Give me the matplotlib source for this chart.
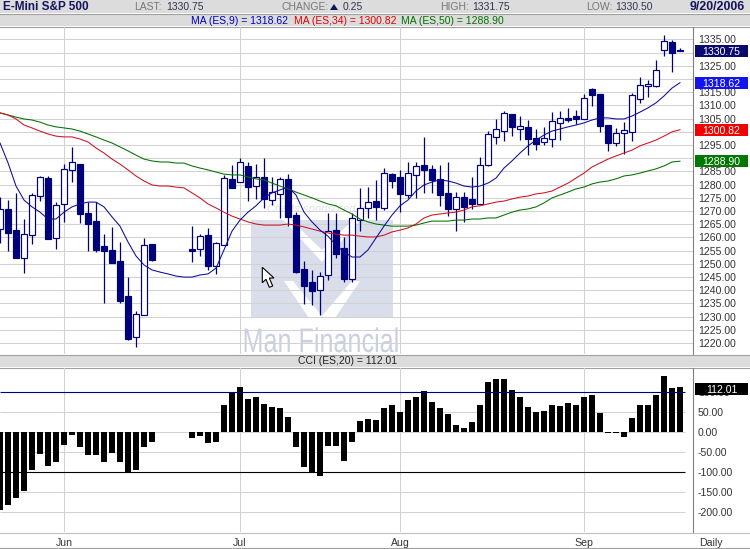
import numpy as np
import matplotlib
matplotlib.use('Agg')
import matplotlib.pyplot as plt
from matplotlib.patches import Rectangle, Polygon
from matplotlib.patheffects import AbstractPathEffect
from matplotlib.transforms import Affine2D

plt.rcParams['font.family'] = ['Liberation Sans', 'DejaVu Sans']

nan = float('nan')

# daily bars, gap in the feed at 20-23
opens = [1263.2, 1270.8, 1262.8, 1252.3, 1260.9, 1275.7, 1282.5, 1259.8, 1272.7, 1285.6,
         1287.8, 1269.3, 1266.2, 1256.8, 1255.3, 1251.1, 1237.8, 1222.3, 1230.6, 1257.5,
         nan, nan, nan, nan, 1255.6, 1255.6, 1260.9, 1249.2, 1257.1, 1282.2,
         1281.0, 1287.1, 1279.5, 1282.9, 1274.2, 1276.5, 1282.2, 1268.5, 1248.1, 1243.1,
         1240.1, 1245.8, 1262.8, 1256.0, 1244.3, 1266.6, 1271.2, 1273.8, 1271.2, 1284.0,
         1282.9, 1276.1, 1283.7, 1287.5, 1286.0, 1282.2, 1276.9, 1270.8, 1275.3, 1274.6,
         1272.7, 1287.5, 1298.1, 1300.3, 1306.8, 1301.1, 1301.9, 1297.7, 1296.2, 1297.3,
         1303.4, 1305.3, 1306.0, 1304.9, 1316.3, 1314.4, 1302.6, 1295.8, 1299.6, 1300.0,
         1312.5, 1317.4, 1317.4, 1331.0, 1334.0, 1331.0]
highs = [1275.3, 1274.2, 1276.9, 1267.0, 1276.9, 1283.3, 1283.3, 1273.4, 1287.8, 1294.3,
         1287.8, 1273.4, 1273.4, 1261.3, 1264.0, 1258.3, 1245.0, 1232.1, 1259.8, 1257.5,
         nan, nan, nan, nan, 1264.3, 1261.3, 1263.6, 1258.3, 1283.7, 1287.5,
         1290.1, 1288.6, 1287.8, 1290.1, 1282.9, 1282.9, 1284.0, 1269.6, 1251.1, 1247.7,
         1246.9, 1269.3, 1269.3, 1260.2, 1269.3, 1278.8, 1279.1, 1281.8, 1286.3, 1284.4,
         1285.6, 1288.6, 1288.6, 1298.1, 1287.5, 1287.5, 1288.6, 1277.2, 1277.2, 1282.9,
         1290.5, 1300.3, 1304.9, 1307.9, 1306.8, 1306.0, 1304.5, 1301.1, 1301.9, 1307.5,
         1307.9, 1309.1, 1308.3, 1314.4, 1316.6, 1314.4, 1302.6, 1301.5, 1303.7, 1314.7,
         1320.8, 1319.7, 1327.2, 1336.7, 1334.8, 1331.75]
lows = [1257.9, 1254.9, 1252.3, 1246.6, 1257.5, 1273.8, 1259.4, 1255.6, 1265.9, 1281.0,
        1265.5, 1254.9, 1254.5, 1235.2, 1250.3, 1235.2, 1221.2, 1218.5, 1230.6, 1251.1,
        nan, nan, nan, nan, 1250.7, 1253.0, 1247.7, 1246.2, 1257.1, 1278.8,
        1281.0, 1273.8, 1274.6, 1271.2, 1272.3, 1267.4, 1264.3, 1246.6, 1234.8, 1234.4,
        1230.6, 1243.9, 1252.3, 1243.1, 1243.1, 1262.4, 1267.4, 1266.6, 1270.4, 1278.8,
        1269.6, 1275.0, 1275.0, 1276.9, 1276.9, 1272.0, 1268.1, 1262.4, 1265.9, 1270.8,
        1272.7, 1287.1, 1295.4, 1296.6, 1298.4, 1296.9, 1291.2, 1293.1, 1295.0, 1294.3,
        1296.9, 1303.7, 1303.0, 1304.9, 1309.8, 1300.0, 1292.8, 1294.7, 1291.6, 1296.6,
        1311.0, 1313.2, 1317.0, 1328.7, 1322.7, 1330.5]
closes = [1270.8, 1261.7, 1252.3, 1261.3, 1276.1, 1282.9, 1259.4, 1272.3, 1286.0, 1288.6,
          1268.9, 1265.1, 1255.3, 1254.9, 1250.3, 1235.9, 1221.6, 1231.0, 1257.1, 1251.5,
          nan, nan, nan, nan, 1254.9, 1260.5, 1249.2, 1257.9, 1282.5, 1278.8,
          1288.6, 1279.1, 1282.9, 1274.6, 1277.2, 1282.2, 1267.8, 1246.9, 1241.6, 1239.7,
          1245.4, 1262.4, 1253.8, 1244.3, 1267.4, 1271.2, 1273.4, 1271.6, 1284.4, 1281.4,
          1276.5, 1284.4, 1287.1, 1285.6, 1281.8, 1276.1, 1270.8, 1275.3, 1271.6, 1272.7,
          1287.5, 1299.2, 1301.1, 1307.2, 1301.9, 1302.2, 1297.3, 1295.4, 1297.7, 1304.1,
          1305.3, 1304.5, 1304.9, 1312.8, 1314.0, 1302.2, 1295.8, 1299.6, 1300.7, 1314.0,
          1317.8, 1318.1, 1323.5, 1334.4, 1329.9, 1330.75]

ma9 = [1295.8, 1288.3, 1279.5, 1274.2, 1271.6, 1269.6, 1267.0, 1267.0, 1269.6, 1271.6,
       1272.7, 1273.4, 1273.4, 1271.6, 1267.8, 1264.3, 1258.3, 1253.0, 1249.6, 1247.7,
       1246.9, 1246.2, 1245.4, 1245.0, 1245.0, 1245.8, 1246.2, 1248.4, 1255.3, 1262.4,
       1266.6, 1269.6, 1272.0, 1275.0, 1276.9, 1278.0, 1279.1, 1276.1, 1269.6, 1265.9,
       1262.8, 1260.5, 1257.1, 1254.5, 1252.6, 1252.6, 1255.3, 1259.8, 1264.3, 1268.5,
       1272.0, 1274.2, 1277.6, 1279.9, 1281.0, 1281.8, 1281.4, 1280.6, 1279.5, 1279.1,
       1279.5, 1280.6, 1282.5, 1286.3, 1289.0, 1292.0, 1294.7, 1296.9, 1298.8, 1300.3,
       1301.1, 1301.9, 1302.6, 1303.4, 1304.5, 1305.3, 1305.3, 1304.9, 1304.9, 1306.0,
       1307.5, 1309.1, 1311.0, 1313.6, 1316.6, 1318.62]
ma34 = [1307.2, 1306.4, 1304.9, 1302.6, 1301.5, 1300.3, 1299.2, 1298.4, 1298.1, 1298.1,
        1297.3, 1296.2, 1293.9, 1292.0, 1289.7, 1287.8, 1285.6, 1283.3, 1281.4, 1279.9,
        1279.5, 1279.5, 1279.1, 1278.8, 1276.9, 1275.0, 1272.7, 1271.2, 1269.6, 1268.1,
        1267.0, 1265.9, 1265.1, 1264.7, 1264.7, 1264.7, 1265.1, 1264.7, 1264.0, 1263.2,
        1262.4, 1261.7, 1261.3, 1260.9, 1260.9, 1260.5, 1260.2, 1260.2, 1260.9, 1262.1,
        1262.8, 1263.6, 1265.1, 1267.4, 1268.5, 1268.9, 1269.3, 1269.6, 1270.4, 1271.6,
        1272.0, 1272.7, 1273.4, 1273.8, 1274.6, 1275.3, 1275.7, 1276.5, 1276.9, 1277.6,
        1279.1, 1280.6, 1282.5, 1284.4, 1286.7, 1288.2, 1289.7, 1290.9, 1292.0, 1293.1,
        1294.7, 1295.8, 1296.9, 1298.4, 1300.0, 1300.82]
ma50 = [1307.2, 1306.4, 1305.6, 1304.9, 1304.5, 1303.7, 1302.6, 1301.9, 1301.5, 1301.1,
        1300.3, 1299.2, 1298.1, 1296.9, 1295.8, 1294.3, 1292.8, 1291.2, 1289.7, 1289.0,
        1288.6, 1288.6, 1288.2, 1288.2, 1287.1, 1286.3, 1285.6, 1284.8, 1284.0, 1283.7,
        1283.7, 1282.9, 1282.2, 1281.8, 1280.6, 1279.5, 1278.4, 1277.2, 1276.1, 1275.0,
        1273.8, 1272.7, 1272.0, 1270.4, 1268.9, 1267.0, 1265.9, 1265.1, 1264.7, 1264.3,
        1264.3, 1264.3, 1264.7, 1265.5, 1266.2, 1266.2, 1266.2, 1266.6, 1266.6, 1267.0,
        1267.0, 1267.4, 1267.4, 1268.5, 1269.6, 1270.4, 1270.8, 1271.6, 1273.1, 1275.0,
        1276.1, 1277.2, 1278.4, 1279.1, 1280.3, 1281.0, 1281.4, 1282.2, 1283.3, 1283.7,
        1284.4, 1285.2, 1286.0, 1287.1, 1288.6, 1288.90]

cci = [-194, -182, -164, -147, -94, -54, -84, -74, -32, -7,
       -37, -57, -57, -74, -52, -74, -100, -94, -37, -24,
       nan, nan, nan, nan, -14, -9, -27, -24, 68, 100,
       114, 83, 88, 71, 63, 61, 38, -37, -87, -100,
       -109, -34, -34, -72, -24, 28, 33, 31, 61, 68,
       51, 81, 88, 103, 76, 61, 46, 18, 11, 26,
       68, 126, 133, 133, 106, 88, 63, 51, 53, 68,
       66, 73, 68, 88, 93, 48, -2, -2, -11, 36,
       68, 68, 93, 141, 111, 112.01]

month_pos = [8, 30, 50, 73]
month_names = ['Jun', 'Jul', 'Aug', 'Sep']
price_ticks = list(range(1220, 1340, 5))
hidden_prices = [1330, 1320, 1300, 1290]
cci_ticks = [100, 50, 0, -50, -100, -150, -200]

NAVY = '#00007a'
GRID = '#d2d2d2'
BAND = '#dcdcdc'
RULE = '#a0a0a0'
TICK = '#333333'
idx = np.arange(len(closes))
W, H = 750, 549

fig = plt.figure(figsize=(7.5, 5.49), dpi=100, facecolor='white')


class Squeeze(AbstractPathEffect):
    # the watermark lettering is narrower than any installed face
    def __init__(self, x0, sx):
        super().__init__()
        self.x0, self.sx = x0, sx

    def draw_path(self, renderer, gc, tpath, affine, rgbFace=None):
        t = affine + Affine2D().translate(-self.x0, 0).scale(self.sx, 1).translate(self.x0, 0)
        renderer.draw_path(gc, tpath, t, rgbFace)


def panel(top, bottom):
    a = fig.add_axes([0, 1 - bottom / H, 693 / W, (bottom - top) / H])
    a.patch.set_alpha(0)
    for s in ['top', 'left', 'bottom']:
        a.spines[s].set_visible(False)
    a.spines['right'].set_color('#808080')
    a.spines['right'].set_linewidth(0.8)
    a.set_xlim(0, 86.625)
    a.yaxis.tick_right()
    a.tick_params(axis='y', length=0, pad=3.4, labelsize=7.6, labelcolor=TICK)
    a.tick_params(axis='x', length=0)
    return a


# pixel canvas behind the panels: header bands, watermark
bg = fig.add_axes([0, 0, 1, 1], zorder=-1)
bg.set_xlim(0, W)
bg.set_ylim(H, 0)
bg.axis('off')
for y0, y1 in [(0, 13), (14, 26), (355, 367)]:
    bg.add_patch(Rectangle((0, y0), W, y1 - y0, color=BAND, lw=0))
for y in [13.5, 26.5, 354.5, 367.5, 548]:
    bg.plot([0, W], [y, y], color=RULE, lw=0.8)
bg.plot([0, W], [532.5, 532.5], color='#c0c0c0', lw=0.8)

LOGO = '#d9deea'
bg.add_patch(Rectangle((251, 220), 142, 98, color=LOGO, lw=0))
for pts in [[(283, 220), (291, 220), (322, 250), (353, 220), (361, 220), (322, 262)],
            [(284, 281), (293, 281), (322, 316), (352, 281), (360, 281), (335, 318), (309, 318)]]:
    bg.add_patch(Polygon(pts, closed=True, color='white', lw=0))
bg.text(321, 352, 'Man Financial', fontsize=24.5, color='#c9d0e0', ha='center', va='baseline',
        path_effects=[Squeeze(321, 0.74)])
bg.text(319, 209, 'Charts sponsored by', fontsize=8, color='#dfe2e8', ha='center', va='center',
        style='italic')

head = dict(va='center', fontsize=7.5)
bg.text(3, 7, 'E-Mini S&P 500', color='#14145f', fontsize=8.5, fontweight='bold', va='center')
bg.text(745, 7, '9/20/2006', color='#14145f', fontsize=8.9, fontweight='bold', va='center', ha='right')
for lab, x, val, xv in [('LAST:', 134, '1330.75', 166), ('HIGH:', 440, '1331.75', 472),
                        ('LOW:', 586, '1330.50', 615), ('CHANGE:', 281, '0.25', 343)]:
    bg.text(x, 7, lab, color='#777777', **head)
    bg.text(xv, 7, val, color='#333355', **head)
bg.add_patch(Polygon([(330, 10), (338, 10), (334, 4)], closed=True, color='#14145f', lw=0))
bg.text(191, 20.5, 'MA (ES,9) = 1318.62', color='#0000c0', **head)
bg.text(294, 20.5, 'MA (ES,34) = 1300.82', color='#e00000', **head)
bg.text(401, 20.5, 'MA (ES,50) = 1288.90', color='#007000', **head)
bg.text(298, 361, 'CCI (ES,20) = 112.01', color='#222222', **head)
bg.text(699, 542.7, 'Daily', color=TICK, fontsize=7.6, va='center')

# price panel
ax = panel(27, 354)
ax.set_ylim(1215.87, 1339.73)
ax.set_yticks(price_ticks)
ax.set_yticklabels(['' if t in hidden_prices else f'{t:.2f}' for t in price_ticks])
ax.set_xticks(month_pos)
ax.set_xticklabels([])
ax.grid(True, color=GRID, lw=0.75)
ax.set_axisbelow(True)

o, c = np.array(opens), np.array(closes)
ax.vlines(idx, lows, highs, color=NAVY, lw=0.9, zorder=3)
up = c >= o
down = c < o
ax.bar(idx[up], (c - o)[up], bottom=o[up], width=0.75, facecolor='white',
       edgecolor=NAVY, lw=0.85, zorder=4)
ax.bar(idx[down], (o - c)[down], bottom=c[down], width=0.75, facecolor=NAVY,
       edgecolor=NAVY, lw=0.85, zorder=4)
ax.plot(idx, ma50, color='#007000', lw=0.75, zorder=5)
ax.plot(idx, ma34, color='#d01020', lw=0.75, zorder=5)
ax.plot(idx, ma9, color='#0a0aa0', lw=0.75, zorder=5)


def tag(a, val, colour, txt, h, shift=0):
    a.add_patch(Rectangle((695 / 693, val + shift - h / 2), 53 / 693, h, transform=a.get_yaxis_transform(),
                          facecolor=colour, lw=0, clip_on=False, zorder=6))
    a.text(721.5 / 693, val + shift, txt, transform=a.get_yaxis_transform(), color='white', fontsize=7.6,
           ha='center', va='center_baseline', zorder=7)


tag(ax, 1330.75, '#0a0a6e', '1330.75', 4.5)
tag(ax, 1318.62, '#1414f0', '1318.62', 4.5)
tag(ax, 1300.82, '#f00000', '1300.82', 4.5)
tag(ax, 1288.90, '#007800', '1288.90', 4.5)

# CCI panel
ax2 = panel(368, 532)
ax2.set_ylim(-249.25, 160.75)
ax2.set_yticks(cci_ticks)
ax2.set_yticklabels([f'{t:.2f}' for t in cci_ticks])
ax2.set_xticks(month_pos)
ax2.set_xticklabels(month_names, color=TICK, fontsize=7.6)
ax2.tick_params(axis='x', pad=4.2)
ax2.grid(True, axis='x', color=GRID, lw=0.75)
ax2.set_axisbelow(True)
ax2.hlines([50, 0, -50, -150, -200], 0, 85.6, color=GRID, lw=0.75, zorder=1)
ax2.bar(idx, cci, width=0.75, color='black', lw=0, zorder=3)
ax2.hlines(100, 0, 85.6, color='#00007a', lw=0.8, zorder=4)
ax2.hlines(-100, 0, 85.6, color='black', lw=0.8, zorder=4)
tag(ax2, 112.01, 'black', '112.01', 30, shift=-4)

# mouse pointer left on the screenshot
ax.add_patch(Polygon([(262.3, 267.3), (262.3, 282.7), (266, 279.3), (269.3, 287.3),
                      (272.7, 286), (269.3, 278), (274, 278)], closed=True, facecolor='white',
                     edgecolor='black', lw=0.8, transform=bg.transData, zorder=8))

fig.savefig('out.png', dpi=100)
plt.close(fig)
